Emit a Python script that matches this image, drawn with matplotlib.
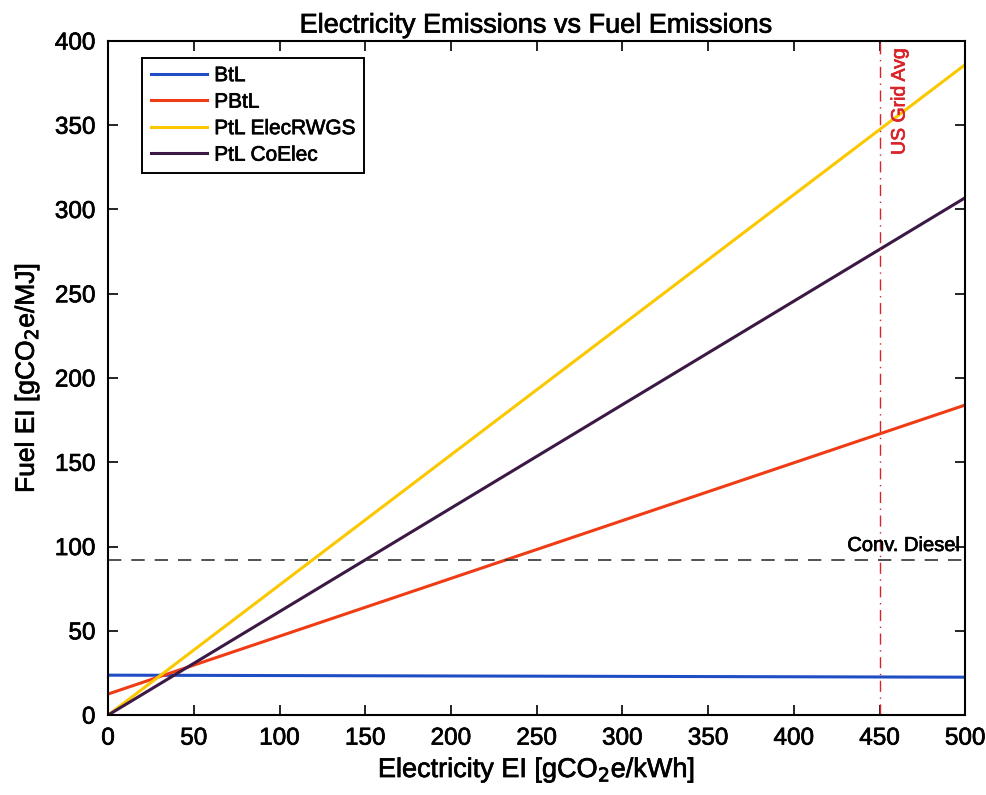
import matplotlib.pyplot as plt
import matplotlib.patheffects as pe
import numpy as np

plt.rcParams['font.family'] = ['Liberation Sans', 'DejaVu Sans']

# electricity emission intensity [gCO2e/kWh]
elec_ei = np.array([0, 500])

# fuel emission intensity at the two ends of the range [gCO2e/MJ]
btl = [23.7, 22.5]
pbtl = [12.5, 184]
ptl_rwgs = [0, 386]
ptl_coelec = [0, 307]

diesel_ei = 92
us_grid_avg = 450

series = [
    ("BtL", btl, "#1f4ec4"),
    ("PBtL", pbtl, "#f03c14"),
    ("PtL ElecRWGS", ptl_rwgs, "#fbc800"),
    ("PtL CoElec", ptl_coelec, "#3c1845"),
]

fig = plt.figure(figsize=(9.87, 7.95), dpi=100)
ax = fig.add_axes([0.1095, 0.1005, 0.8685, 0.848])

for name, vals, color in series:
    ax.plot(elec_ei, vals, color=color, lw=2.2, label=name)

ax.axhline(diesel_ei, color="#333333", lw=1.2, ls=(0, (8, 6)))
ax.axvline(us_grid_avg, color="#d9232a", lw=1.0, ls=(0, (8, 4, 1, 4)))
ax.text(497, diesel_ei + 3, "Conv. Diesel", ha="right", va="bottom", fontsize=14.5)
ax.text(us_grid_avg + 7, 396, "US Grid Avg", rotation=90, ha="left", va="top",
        fontsize=14, color="#d9232a")

ax.set_xlim(0, 500)
ax.set_ylim(0, 400)
ax.set_xticks(np.arange(0, 501, 50))
ax.set_yticks(np.arange(0, 401, 50))
ax.tick_params(direction="in", top=True, right=True, length=7, width=1.2,
               labelsize=17.5, pad=9)
for s in ax.spines.values():
    s.set_linewidth(1.5)

ax.set_title("Electricity Emissions vs Fuel Emissions", fontsize=19.5, pad=6)
ax.set_xlabel("Electricity EI [gCO$_2$e/kWh]", fontsize=19.5, labelpad=4)
ax.set_ylabel("Fuel EI [gCO$_2$e/MJ]", fontsize=19, labelpad=10)

leg = ax.legend(loc="upper left", bbox_to_anchor=(0.04, 0.975), borderaxespad=0,
                fontsize=15, fancybox=False, edgecolor="black", framealpha=1,
                handlelength=2.7, handletextpad=0.35, borderpad=0.4,
                labelspacing=0.36)
leg.get_frame().set_linewidth(1.4)

# slightly heavier glyphs
for t in fig.findobj(plt.Text):
    t.set_path_effects([pe.withStroke(linewidth=0.5, foreground=t.get_color())])

fig.savefig("out.png", dpi=100)
